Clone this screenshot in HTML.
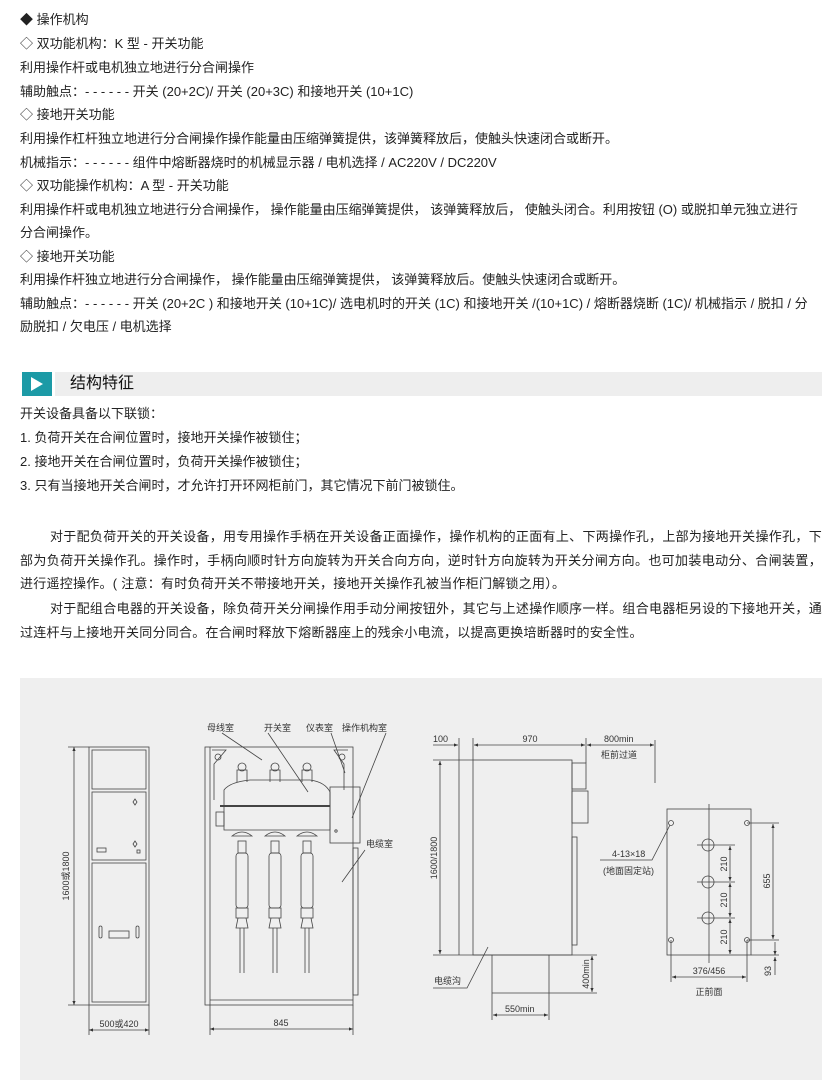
<!DOCTYPE html>
<html><head><meta charset="utf-8"><style>
body{margin:0;width:837px;height:1092px;background:#fff;position:relative;overflow:hidden;font-family:"Liberation Sans","Noto Sans CJK SC",sans-serif;color:#222;font-size:13px}
.l{position:absolute;left:20px;white-space:nowrap;line-height:16px}
.p{position:absolute;left:20px;width:802px;line-height:23.7px;text-align:justify;text-indent:30px;letter-spacing:0.25px}
</style></head><body>
<div class="l" style="top:12px">◆ 操作机构</div>
<div class="l" style="top:36px">◇ 双功能机构：K 型 - 开关功能</div>
<div class="l" style="top:60px">利用操作杆或电机独立地进行分合闸操作</div>
<div class="l" style="top:84px">辅助触点：- - - - - - 开关 (20+2C)/ 开关 (20+3C) 和接地开关 (10+1C)</div>
<div class="l" style="top:107px">◇ 接地开关功能</div>
<div class="l" style="top:131px">利用操作杠杆独立地进行分合闸操作操作能量由压缩弹簧提供，该弹簧释放后，使触头快速闭合或断开。</div>
<div class="l" style="top:155px">机械指示：- - - - - - 组件中熔断器烧时的机械显示器 / 电机选择 / AC220V / DC220V</div>
<div class="l" style="top:178px">◇ 双功能操作机构：A 型 - 开关功能</div>
<div class="l" style="top:202px">利用操作杆或电机独立地进行分合闸操作， 操作能量由压缩弹簧提供， 该弹簧释放后， 使触头闭合。利用按钮 (O) 或脱扣单元独立进行</div>
<div class="l" style="top:225px">分合闸操作。</div>
<div class="l" style="top:249px">◇ 接地开关功能</div>
<div class="l" style="top:272px">利用操作杆独立地进行分合闸操作， 操作能量由压缩弹簧提供， 该弹簧释放后。使触头快速闭合或断开。</div>
<div class="l" style="top:296px">辅助触点：- - - - - - 开关 (20+2C ) 和接地开关 (10+1C)/ 选电机时的开关 (1C) 和接地开关 /(10+1C) / 熔断器烧断 (1C)/ 机械指示 / 脱扣 / 分</div>
<div class="l" style="top:319px">励脱扣 / 欠电压 / 电机选择</div>

<div style="position:absolute;left:22px;top:372px;width:30px;height:24px;background:#1c9aa6"></div>
<div style="position:absolute;left:31px;top:377px;width:0;height:0;border-left:12px solid #fff;border-top:7px solid transparent;border-bottom:7px solid transparent"></div>
<div style="position:absolute;left:55px;top:372px;width:767px;height:24px;background:#eeeeee"></div>
<div class="l" style="left:70px;top:375px;font-size:16px;line-height:18px;color:#111">结构特征</div>

<div class="l" style="top:406px">开关设备具备以下联锁：</div>
<div class="l" style="top:430px">1. 负荷开关在合闸位置时，接地开关操作被锁住；</div>
<div class="l" style="top:454px">2. 接地开关在合闸位置时，负荷开关操作被锁住；</div>
<div class="l" style="top:478px">3. 只有当接地开关合闸时，才允许打开环网柜前门，其它情况下前门被锁住。</div>
<div class="p" style="top:525px">对于配负荷开关的开关设备，用专用操作手柄在开关设备正面操作，操作机构的正面有上、下两操作孔，上部为接地开关操作孔，下部为负荷开关操作孔。操作时，手柄向顺时针方向旋转为开关合向方向，逆时针方向旋转为开关分闸方向。也可加装电动分、合闸装置，进行遥控操作。( 注意：有时负荷开关不带接地开关，接地开关操作孔被当作柜门解锁之用）。</div>
<div class="p" style="top:597px">对于配组合电器的开关设备，除负荷开关分闸操作用手动分闸按钮外，其它与上述操作顺序一样。组合电器柜另设的下接地开关，通过连杆与上接地开关同分同合。在合闸时释放下熔断器座上的残余小电流，以提高更换培断器时的安全性。</div>

<div style="position:absolute;left:20px;top:678px;width:802px;height:402px;background:#efefef"></div>
<svg style="position:absolute;left:0;top:0" width="837" height="1092" font-family="Liberation Sans,Noto Sans CJK SC,sans-serif" font-size="9" fill="none" stroke="#444" stroke-width="0.8">
<defs><marker id="a" markerWidth="6" markerHeight="6" refX="5" refY="3" orient="auto-start-reverse"><path d="M0,1 L5,3 L0,5z" fill="#333" stroke="none"/></marker></defs>
<rect x="89" y="747" width="60" height="258"/>
<rect x="92" y="750" width="54" height="39"/>
<rect x="92" y="792" width="54" height="68"/>
<rect x="92" y="863" width="54" height="139"/>
<rect x="97" y="848" width="9" height="4"/><rect x="109" y="931" width="20" height="7"/>
<rect x="99" y="926" width="3" height="12" rx="1.5"/><rect x="136" y="926" width="3" height="12" rx="1.5"/>
<path d="M133,802 l2,-3 2,3 -2,3z M133,844 l2,-3 2,3 -2,3z"/><rect x="137" y="850" width="3" height="3"/>
<line x1="74" y1="747" x2="74" y2="1005" marker-start="url(#a)" marker-end="url(#a)"/>
<line x1="68" y1="747" x2="89" y2="747"/><line x1="68" y1="1005" x2="89" y2="1005"/>
<line x1="89" y1="1005" x2="89" y2="1035"/><line x1="149" y1="1005" x2="149" y2="1035"/>
<line x1="89" y1="1030" x2="149" y2="1030" marker-start="url(#a)" marker-end="url(#a)"/>
<text x="119" y="1027" text-anchor="middle" fill="#333" stroke="none">500或420</text>
<text transform="translate(69,876) rotate(-90)" text-anchor="middle" fill="#333" stroke="none">1600或1800</text>
<rect x="205" y="747" width="148" height="258"/>
<line x1="210" y1="747" x2="210" y2="1005"/><line x1="210" y1="1000" x2="353" y2="1000"/>
<rect x="353" y="848" width="5" height="147"/>
<path d="M212,750 L226,750 L214,764 L214,800 M348,750 L334,750 L344,764 L344,790"/>
<circle cx="218" cy="757" r="3"/><circle cx="342" cy="757" r="3"/>
<path d="M224,790 Q230,782 250,780 L310,780 Q325,782 330,792 L330,830 L224,830z"/>
<line x1="220" y1="806" x2="330" y2="806" stroke-width="2"/>
<rect x="216" y="812" width="8" height="14"/>
<rect x="330" y="787" width="30" height="56"/><circle cx="336" cy="831" r="1.2"/>
<g>
<path d="M237,782 l0,-12 10,0 0,12 M270,782 l0,-12 10,0 0,12 M302,782 l0,-12 10,0 0,12"/>
<circle cx="242" cy="767" r="4"/><circle cx="275" cy="767" r="4"/><circle cx="307" cy="767" r="4"/>
</g>
<g id="f"><path d="M232,836 Q242,828 252,836z"/><rect x="238" y="841" width="8" height="12"/><rect x="236" y="853" width="12" height="55" rx="3"/><rect x="236" y="908" width="12" height="10"/><path d="M238,918 l-2,10 12,0 -2,-10 M240,928 l0,45 M244,928 l0,45"/></g>
<use href="#f" x="33"/><use href="#f" x="65"/>
<line x1="210" y1="1005" x2="210" y2="1035"/><line x1="353" y1="1005" x2="353" y2="1035"/>
<line x1="210" y1="1029" x2="353" y2="1029" marker-start="url(#a)" marker-end="url(#a)"/>
<text x="281" y="1026" text-anchor="middle" fill="#333" stroke="none">845</text>
<g fill="#333" stroke="none"><text x="207" y="731">母线室</text><text x="264" y="731">开关室</text><text x="306" y="731">仪表室</text><text x="342" y="731">操作机构室</text><text x="366" y="847">电缆室</text></g>
<path d="M222,733 L262,760 M268,733 L308,792 M331,733 L345,773 M386,733 L352,818 M365,850 L342,882"/>
<rect x="473" y="760" width="99" height="195"/>
<line x1="459" y1="760" x2="459" y2="955"/><line x1="433" y1="760" x2="473" y2="760"/>
<line x1="433" y1="955" x2="597" y2="955"/>
<rect x="572" y="763" width="14" height="26"/><rect x="572" y="791" width="16" height="32"/><rect x="572" y="837" width="5" height="108"/>
<line x1="459" y1="738" x2="459" y2="760"/><line x1="473" y1="738" x2="473" y2="760"/><line x1="586" y1="738" x2="586" y2="763"/><line x1="655" y1="740" x2="655" y2="783"/>
<line x1="433" y1="745" x2="458" y2="745" marker-end="url(#a)"/>
<line x1="474" y1="745" x2="585" y2="745" marker-start="url(#a)" marker-end="url(#a)"/>
<line x1="587" y1="745" x2="654" y2="745" marker-start="url(#a)" marker-end="url(#a)"/>
<line x1="440" y1="761" x2="440" y2="954" marker-start="url(#a)" marker-end="url(#a)"/>
<path d="M492,955 L492,1020 M549,955 L549,1020 M492,993 L597,993"/>
<line x1="592" y1="956" x2="592" y2="992" marker-start="url(#a)" marker-end="url(#a)"/>
<line x1="493" y1="1015" x2="548" y2="1015" marker-start="url(#a)" marker-end="url(#a)"/>
<path d="M488,947 L467,988 L433,988"/>
<g fill="#333" stroke="none"><text x="433" y="742">100</text><text x="530" y="742" text-anchor="middle">970</text><text x="604" y="742">800min</text><text x="601" y="758">柜前过道</text><text x="434" y="984">电缆沟</text><text x="505" y="1012">550min</text>
<text transform="translate(437,858) rotate(-90)" text-anchor="middle">1600/1800</text><text transform="translate(589,974) rotate(-90)" text-anchor="middle">400min</text></g>
<rect x="667" y="809" width="84" height="146"/>
<line x1="709" y1="804" x2="709" y2="963"/>
<circle cx="708" cy="845" r="6"/><circle cx="708" cy="882" r="6"/><circle cx="708" cy="918" r="6"/>
<g><circle cx="671" cy="823" r="2.5"/><circle cx="747" cy="823" r="2.5"/><circle cx="671" cy="940" r="2.5"/><circle cx="747" cy="940" r="2.5"/></g>
<path d="M697,845 L735,845 M697,882 L735,882 M697,918 L735,918 M747,823 L779,823 M747,940 L779,940 M751,955 L779,955 M671,940 L671,982 M747,940 L747,982"/>
<line x1="730" y1="846" x2="730" y2="881" marker-start="url(#a)" marker-end="url(#a)"/>
<line x1="730" y1="883" x2="730" y2="917" marker-start="url(#a)" marker-end="url(#a)"/>
<line x1="730" y1="919" x2="730" y2="954" marker-start="url(#a)" marker-end="url(#a)"/>
<line x1="773" y1="824" x2="773" y2="939" marker-start="url(#a)" marker-end="url(#a)"/>
<line x1="775" y1="942" x2="775" y2="955" marker-end="url(#a)"/><line x1="775" y1="975" x2="775" y2="957" marker-end="url(#a)"/>
<line x1="672" y1="977" x2="746" y2="977" marker-start="url(#a)" marker-end="url(#a)"/>
<path d="M670,825 L652,860 L600,860"/>
<g fill="#333" stroke="none"><text x="612" y="857">4-13×18</text><text x="603" y="874">(地面固定站)</text>
<text x="709" y="974" text-anchor="middle">376/456</text><text x="709" y="995" text-anchor="middle">正前面</text>
<text transform="translate(727,864) rotate(-90)" text-anchor="middle">210</text><text transform="translate(727,900) rotate(-90)" text-anchor="middle">210</text><text transform="translate(727,937) rotate(-90)" text-anchor="middle">210</text>
<text transform="translate(770,881) rotate(-90)" text-anchor="middle">655</text><text transform="translate(771,971) rotate(-90)" text-anchor="middle">93</text></g>
</svg>
</body></html>
